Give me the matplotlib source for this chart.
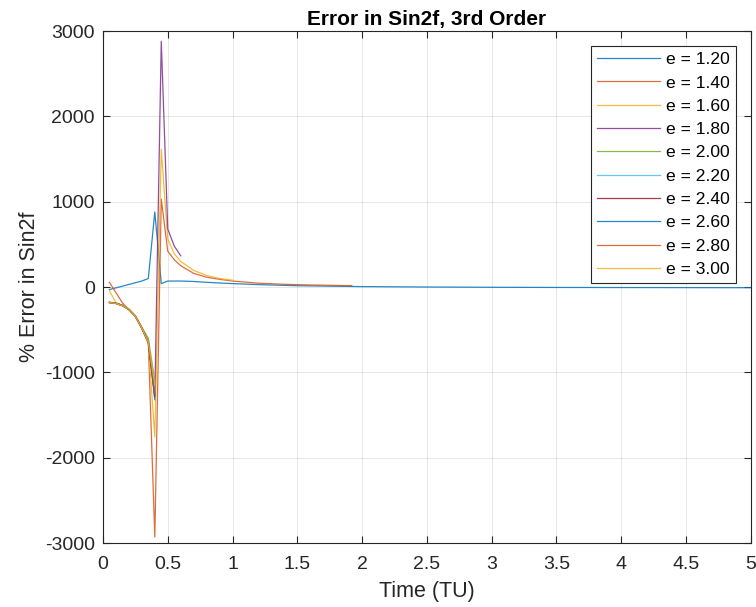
import matplotlib
matplotlib.use("Agg")
import matplotlib.pyplot as plt

plt.rcParams['font.family'] = ['Liberation Sans', 'DejaVu Sans']
plt.rcParams['axes.unicode_minus'] = False

# Eccentricities plotted and their legend labels
ecc = [1.20, 1.40, 1.60, 1.80, 2.00, 2.20, 2.40, 2.60, 2.80, 3.00]

# MATLAB default line colour order
colors = ['#0072BD', '#D95319', '#EDB120', '#7E2F8E', '#77AC30',
          '#4DBEEE', '#A2142F', '#0072BD', '#D95319', '#EDB120']

# Time samples (TU) and % error in sin(2f) for each eccentricity
t_e120 = [0.05, 0.10, 0.15, 0.20, 0.25, 0.30, 0.35, 0.40, 0.45, 0.50, 0.60,
          0.70, 0.80, 1.00, 1.20, 1.50, 2.00, 2.50, 3.00, 3.50, 4.00, 4.50, 5.00]
y_e120 = [-30, -10, 10, 30, 50, 70, 100, 880, 40, 70, 70,
          65, 55, 40, 28, 15, 5, 0, -3, -5, -6, -7, -8]

t_e140 = [0.05, 0.10, 0.15, 0.20, 0.25, 0.30, 0.35, 0.40, 0.45, 0.50, 0.55,
          0.60, 0.70, 0.80, 0.90, 1.00, 1.20, 1.40, 1.60, 1.92]
y_e140 = [55, -65, -185, -265, -340, -480, -650, -2930, 1030, 420, 320,
          250, 160, 115, 90, 70, 45, 32, 24, 16]

t_e160 = [0.05, 0.10, 0.15, 0.20, 0.25, 0.30, 0.35, 0.40, 0.45, 0.50, 0.55,
          0.60, 0.70, 0.80, 0.90, 1.00]
y_e160 = [-43, -185, -215, -265, -345, -485, -660, -1755, 1614, 560, 390,
          300, 195, 135, 100, 80]

t_e180 = [0.05, 0.10, 0.15, 0.20, 0.25, 0.30, 0.35, 0.40, 0.45, 0.50, 0.55, 0.60]
y_e180 = [-180, -190, -215, -262, -342, -482, -640, -1290, 2880, 680, 480, 366]

t_e200 = [0.05, 0.10, 0.15, 0.20, 0.25, 0.30, 0.35, 0.40]
y_e200 = [-182, -192, -218, -258, -335, -470, -600, -1100]

t_e220 = [0.05, 0.10, 0.15, 0.20, 0.25, 0.30, 0.35, 0.40]
y_e220 = [-178, -188, -212, -256, -338, -476, -630, -1200]

t_e240 = [0.05, 0.10, 0.15, 0.20, 0.25, 0.30, 0.35, 0.40]
y_e240 = [-184, -194, -220, -264, -344, -486, -650, -1280]

t_e260 = [0.05, 0.10, 0.15, 0.20, 0.25, 0.30, 0.35, 0.40]
y_e260 = [-180, -190, -216, -262, -340, -480, -640, -1320]

t_e280 = [0.05, 0.10, 0.15, 0.20, 0.25, 0.30, 0.35, 0.40]
y_e280 = [-181, -191, -217, -263, -343, -484, -655, -1240]

t_e300 = [0.05, 0.10, 0.15, 0.20, 0.25, 0.30, 0.35, 0.40]
y_e300 = [-183, -193, -219, -260, -341, -481, -645, -1150]

times = [t_e120, t_e140, t_e160, t_e180, t_e200, t_e220, t_e240, t_e260, t_e280, t_e300]
errors = [y_e120, y_e140, y_e160, y_e180, y_e200, y_e220, y_e240, y_e260, y_e280, y_e300]

x_ticks = [0, 0.5, 1, 1.5, 2, 2.5, 3, 3.5, 4, 4.5, 5]
x_tick_labels = ['0', '0.5', '1', '1.5', '2', '2.5', '3', '3.5', '4', '4.5', '5']
y_ticks = [-3000, -2000, -1000, 0, 1000, 2000, 3000]

fig = plt.figure(figsize=(7.56, 6.07), dpi=100)
ax = fig.add_axes([0.1362, 0.1054, 0.857, 0.8435])

handles = []
for e, c, t, y in zip(ecc, colors, times, errors):
    h, = ax.plot(t, y, color=c, linewidth=0.9, alpha=0.85, label=f'e = {e:.2f}')
    handles.append(h)

ax.set_xlim(0, 5)
ax.set_ylim(-3000, 3000)
ax.set_xticks(x_ticks)
ax.set_xticklabels(x_tick_labels)
ax.set_yticks(y_ticks)

ax.grid(True, color='#262626', alpha=0.13, linewidth=0.6)
ax.set_axisbelow(True)
for s in ax.spines.values():
    s.set_color('#262626')
    s.set_linewidth(0.8)
ax.tick_params(direction='in', which='both', top=True, right=True,
               colors='#262626', labelsize=14, length=5, width=0.8)
ax.tick_params(axis='x', pad=9)
ax.tick_params(axis='y', pad=6)

ax.set_title('Error in Sin2f, 3rd Order', fontsize=15, fontweight='bold',
             color='black', pad=4)
ax.set_xlabel('Time (TU)', fontsize=15.5, color='#262626', labelpad=6)
ax.set_ylabel('% Error in Sin2f', fontsize=15.5, color='#262626', labelpad=3)

leg = ax.legend(handles=handles, loc='upper right', fontsize=12.6,
                frameon=True, fancybox=False, edgecolor='#262626',
                borderaxespad=0.85, handlelength=3.6, handletextpad=0.35,
                labelspacing=0.46, borderpad=0.35, framealpha=1)
leg.get_frame().set_linewidth(0.8)
for lh in leg.get_lines():
    lh.set_alpha(0.85)

fig.savefig('out.png', dpi=100)
